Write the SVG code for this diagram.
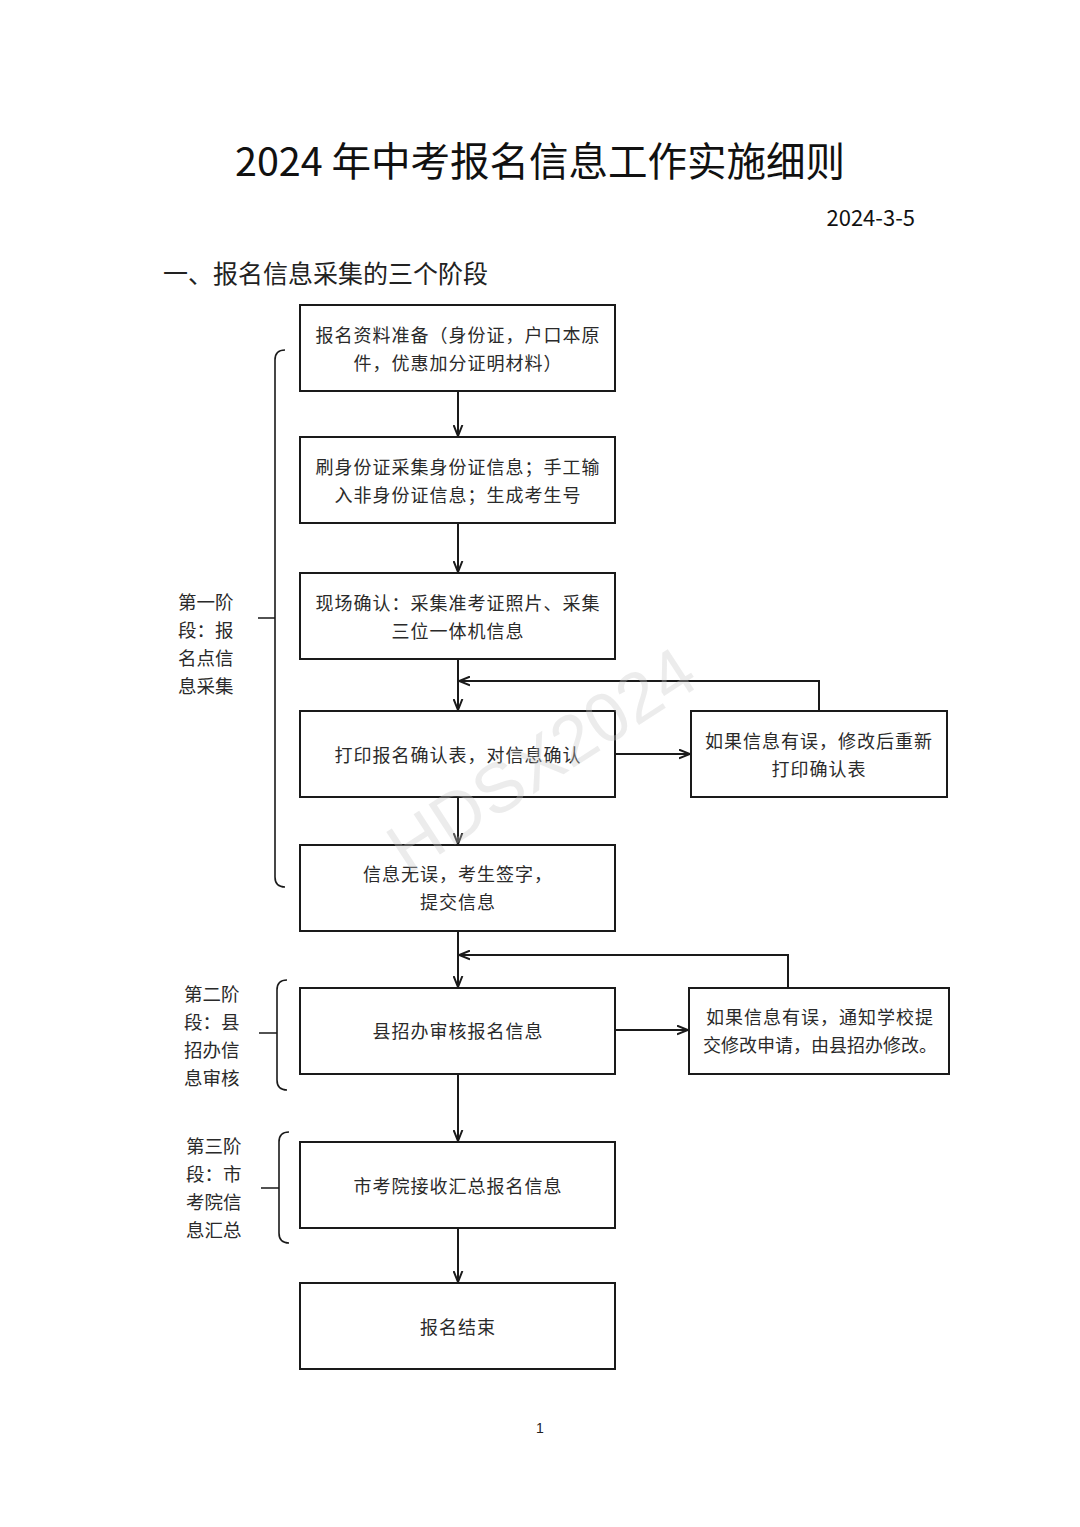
<svg xmlns="http://www.w3.org/2000/svg" width="1080" height="1527" viewBox="0 0 1080 1527">
<defs>
<style>
.bg{fill:#ffffff}
.box{fill:#ffffff;stroke:#1a1a1a;stroke-width:2}
.t{font-family:"Noto Sans CJK SC","Noto Sans",sans-serif;font-size:18px;letter-spacing:1px;fill:#2a2a2a;text-anchor:middle;dominant-baseline:central}
.lab{font-family:"Noto Sans CJK SC","Noto Sans",sans-serif;font-size:18.5px;fill:#2a2a2a;dominant-baseline:central}
.ln{fill:none;stroke:#1a1a1a;stroke-width:2}
.br{fill:none;stroke:#1a1a1a;stroke-width:1.6}
</style>
<marker id="arr" viewBox="0 0 10 10" refX="10" refY="5" markerWidth="11" markerHeight="11" markerUnits="userSpaceOnUse" orient="auto">
<path d="M0,1 L10,5 L0,9" fill="none" stroke="#1a1a1a" stroke-width="1.8"/>
</marker>
</defs>
<rect class="bg" x="0" y="0" width="1080" height="1527"/>

<text x="540" y="158" font-family="&quot;Noto Sans CJK SC&quot;, &quot;Noto Sans&quot;, sans-serif" font-size="39.5" fill="#111" text-anchor="middle" dominant-baseline="central">2024 年中考报名信息工作实施细则</text>
<text x="915" y="216" font-family="&quot;Noto Sans CJK SC&quot;, &quot;Noto Sans&quot;, sans-serif" font-size="22" fill="#111" text-anchor="end" dominant-baseline="central">2024-3-5</text>
<text x="163" y="272" font-family="&quot;Noto Sans CJK SC&quot;, &quot;Noto Sans&quot;, sans-serif" font-size="25" fill="#222" dominant-baseline="central">一、报名信息采集的三个阶段</text>

<g id="stage1">
<path class="br" d="M285,350 Q275,350 275,360 L275,877 Q275,887 285,887 M258,618 L275,618"/>
<text class="lab" x="178" y="601">第一阶</text>
<text class="lab" x="178" y="629">段：报</text>
<text class="lab" x="178" y="657">名点信</text>
<text class="lab" x="178" y="685">息采集</text>
</g>
<g id="stage2">
<path class="br" d="M287,980 Q277,980 277,990 L277,1080 Q277,1090 287,1090 M259,1033 L277,1033"/>
<text class="lab" x="184" y="993">第二阶</text>
<text class="lab" x="184" y="1021">段：县</text>
<text class="lab" x="184" y="1049">招办信</text>
<text class="lab" x="184" y="1077">息审核</text>
</g>
<g id="stage3">
<path class="br" d="M289,1132 Q279,1132 279,1142 L279,1233 Q279,1243 289,1243 M261,1188 L279,1188"/>
<text class="lab" x="186" y="1145">第三阶</text>
<text class="lab" x="186" y="1173">段：市</text>
<text class="lab" x="186" y="1201">考院信</text>
<text class="lab" x="186" y="1229">息汇总</text>
</g>

<g id="connectors">
<path class="ln" d="M458,391 L458,436" marker-end="url(#arr)"/>
<path class="ln" d="M458,523 L458,572" marker-end="url(#arr)"/>
<path class="ln" d="M458,659 L458,710" marker-end="url(#arr)"/>
<path class="ln" d="M819,711 L819,681 L459,681" marker-end="url(#arr)"/>
<path class="ln" d="M615,754 L690,754" marker-end="url(#arr)"/>
<path class="ln" d="M458,797 L458,844" marker-end="url(#arr)"/>
<path class="ln" d="M458,931 L458,987" marker-end="url(#arr)"/>
<path class="ln" d="M788,988 L788,955 L459,955" marker-end="url(#arr)"/>
<path class="ln" d="M615,1030 L688,1030" marker-end="url(#arr)"/>
<path class="ln" d="M458,1074 L458,1141" marker-end="url(#arr)"/>
<path class="ln" d="M458,1228 L458,1282" marker-end="url(#arr)"/>
</g>

<g id="n1">
<rect class="box" x="300" y="305" width="315" height="86"/>
<text class="t" x="458" y="334">报名资料准备（身份证，户口本原</text>
<text class="t" x="458" y="362">件，优惠加分证明材料）</text>
</g>
<g id="n2">
<rect class="box" x="300" y="437" width="315" height="86"/>
<text class="t" x="458" y="466">刷身份证采集身份证信息；手工输</text>
<text class="t" x="458" y="494">入非身份证信息；生成考生号</text>
</g>
<g id="n3">
<rect class="box" x="300" y="573" width="315" height="86"/>
<text class="t" x="458" y="602">现场确认：采集准考证照片、采集</text>
<text class="t" x="458" y="630">三位一体机信息</text>
</g>
<g id="n4">
<rect class="box" x="300" y="711" width="315" height="86"/>
<text class="t" x="458" y="754">打印报名确认表，对信息确认</text>
</g>
<g id="n4r">
<rect class="box" x="691" y="711" width="256" height="86"/>
<text class="t" x="819" y="740">如果信息有误，修改后重新</text>
<text class="t" x="819" y="768">打印确认表</text>
</g>
<g id="n5">
<rect class="box" x="300" y="845" width="315" height="86"/>
<text class="t" x="458" y="873">信息无误，考生签字，</text>
<text class="t" x="458" y="901">提交信息</text>
</g>
<g id="n6">
<rect class="box" x="300" y="988" width="315" height="86"/>
<text class="t" x="458" y="1030">县招办审核报名信息</text>
</g>
<g id="n6r">
<rect class="box" x="689" y="988" width="260" height="86"/>
<text class="t" x="820" y="1016">如果信息有误，通知学校提</text>
<text class="t" x="820" y="1044" style="letter-spacing:0">交修改申请，由县招办修改。</text>
</g>
<g id="n7">
<rect class="box" x="300" y="1142" width="315" height="86"/>
<text class="t" x="458" y="1185">市考院接收汇总报名信息</text>
</g>
<g id="n8">
<rect class="box" x="300" y="1283" width="315" height="86"/>
<text class="t" x="458" y="1326">报名结束</text>
</g>

<text x="548" y="782" transform="rotate(-33 548 770)" font-family="Liberation Sans, sans-serif" font-size="70" fill="#c8c8c8" fill-opacity="0.35" text-anchor="middle">HDSX2024</text>

<text x="540" y="1428" font-family="Liberation Sans, sans-serif" font-size="14" fill="#222" text-anchor="middle" dominant-baseline="central">1</text>
</svg>
